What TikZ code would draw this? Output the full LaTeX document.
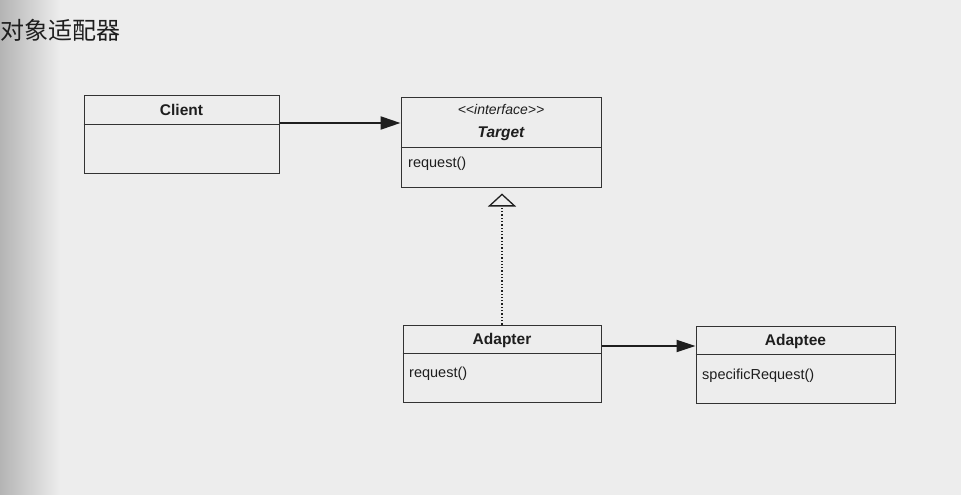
\documentclass[tikz,border=0pt]{standalone}
\usepackage{fontspec}
\setmainfont{Liberation Sans}
\newfontfamily\cjk{Noto Sans CJK SC}
\usetikzlibrary{arrows.meta}
\definecolor{paper}{HTML}{EDEDED}
\definecolor{edge}{HTML}{B4B4B4}
\definecolor{ink}{HTML}{1E1E1E}
\definecolor{boxc}{HTML}{333333}
\begin{document}
\begin{tikzpicture}[x=1pt,y=-1pt,
  umlbox/.style={draw=boxc, line width=1pt, inner sep=0pt},
  divider/.style={draw=boxc, line width=1pt},
  cname/.style={font=\bfseries\fontsize{15.5}{17}\selectfont, text=ink, inner sep=0pt},
  stereo/.style={font=\itshape\fontsize{14}{16}\selectfont, text=ink, inner sep=0pt},
  member/.style={font=\fontsize{14.5}{16}\selectfont, text=ink, inner sep=0pt, anchor=west},
  assoc/.style={draw=ink, line width=2.2pt, -{Triangle[length=20pt,width=13pt]}},
  realize/.style={draw=ink, line width=1.3pt, dotted, -{Triangle[open,length=13pt,width=28pt,line width=1.3pt]}, shorten >=6pt},
  titletext/.style={font=\cjk\fontsize{24}{27}\selectfont, text=ink, inner sep=0pt, anchor=west}
]
\useasboundingbox (0,0) rectangle (961,495);
\fill[paper] (0,0) rectangle (961,495);
\shade[left color=edge, right color=paper] (0,0) rectangle (60,495);

\node[titletext] (title) at (0.5,30) {对象适配器};

% Client
\node[umlbox, minimum width=195pt, minimum height=78pt] (client) at (181.5,134) {};
\draw[divider] (client.west |- 0,124) -- (client.east |- 0,124);
\node[cname] (clientname) at (181.5,110) {Client};

% Target
\node[umlbox, minimum width=200pt, minimum height=90pt] (target) at (501,142) {};
\draw[divider] (target.west |- 0,147) -- (target.east |- 0,147);
\node[stereo] (targetstereo) at (501,109) {<\kern0pt<interface>\kern0pt>};
\node[cname, font=\bfseries\itshape\fontsize{15.5}{17}\selectfont] (targetname) at (501,134) {Target};
\node[member] (targetreq) at (408,164) {request()};

% Adapter
\node[umlbox, minimum width=198pt, minimum height=77pt] (adapter) at (502,363.5) {};
\draw[divider] (adapter.west |- 0,353) -- (adapter.east |- 0,353);
\node[cname] (adaptername) at (502,340) {Adapter};
\node[member] (adapterreq) at (409,374) {request()};

% Adaptee
\node[umlbox, minimum width=199pt, minimum height=77pt] (adaptee) at (795.5,364.5) {};
\draw[divider] (adaptee.west |- 0,354) -- (adaptee.east |- 0,354);
\node[cname] (adapteename) at (795.5,341) {Adaptee};
\node[member] (adapteereq) at (702,376) {specificRequest()};

% connectors
\draw[assoc] (client.east |- 0,123) -- (target.west |- 0,123);
\draw[realize] (adapter.north) -- (adapter.north |- target.south);
\draw[assoc, -{Triangle[length=19pt,width=12pt]}] (adapter.east |- 0,346) -- (adaptee.west |- 0,346);
\end{tikzpicture}
\end{document}
